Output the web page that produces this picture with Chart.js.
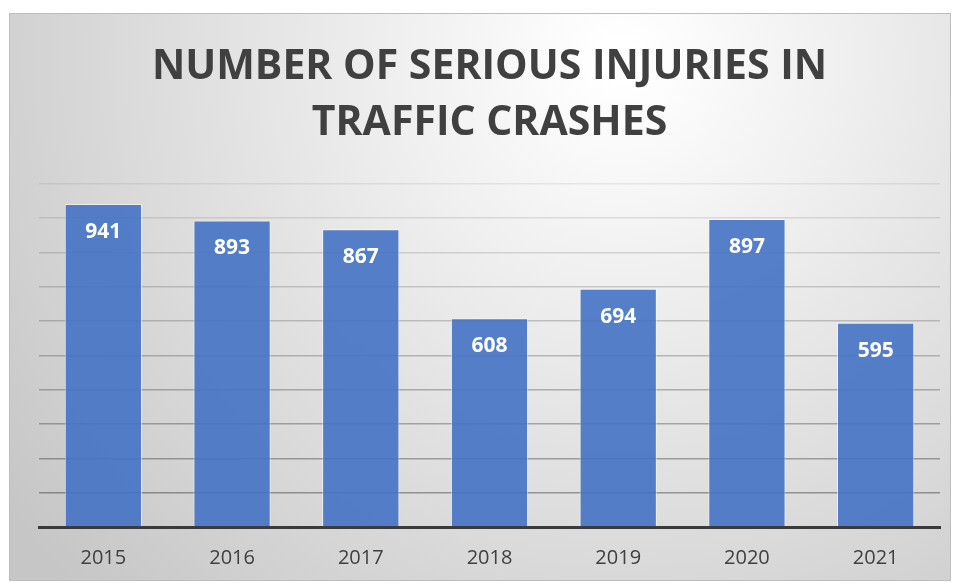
<!DOCTYPE html>
<html>
<head>
<meta charset="utf-8">
<script src="https://cdn.jsdelivr.net/npm/chart.js@4"></script>
<style>
  body { margin: 0; background: #fff; }
  #wrap { width: 958px; height: 583px; }
</style>
</head>
<body>
<div id="wrap"><canvas id="injuryChart" width="958" height="583"></canvas></div>
<script>
// Data for the chart
const years = ["2015", "2016", "2017", "2018", "2019", "2020", "2021"];
const injuries = [941, 893, 867, 608, 694, 897, 595];
const titleLines = ["NUMBER OF SERIOUS INJURIES IN", "TRAFFIC CRASHES"];

// gray panel behind the chart, lighter near the top middle
const panelBg = {
  id: "panelBg",
  beforeDraw(chart) {
    const c = chart.ctx;
    c.save();
    const g = c.createRadialGradient(620, 60, 20, 620, 60, 760);
    g.addColorStop(0, "#ffffff");
    g.addColorStop(1, "#c6c6c6");
    c.fillStyle = g;
    c.fillRect(9, 13, 941, 567);
    c.strokeStyle = "#bdbdbd";
    c.lineWidth = 1;
    c.strokeRect(9.5, 13.5, 941, 567);
    c.restore();
  },
};

// white value labels inside the top of each bar
const barValues = {
  id: "barValues",
  afterDatasetsDraw(chart) {
    const c = chart.ctx;
    const meta = chart.getDatasetMeta(0);
    c.save();
    c.fillStyle = "#ffffff";
    c.font = "bold 21px 'Open Sans', sans-serif";
    c.textAlign = "center";
    c.textBaseline = "middle";
    meta.data.forEach((bar, i) => {
      c.fillText(injuries[i], bar.x, bar.y + 28);
    });
    c.restore();
  },
};

const ctx = document.getElementById("injuryChart").getContext("2d");
new Chart(ctx, {
  type: "bar",
  data: {
    labels: years,
    datasets: [
      {
        label: "Serious injuries",
        data: injuries,
        backgroundColor: "rgba(68, 114, 196, 0.9)",
        borderColor: "rgba(255, 255, 255, 0.55)",
        borderWidth: 1,
        categoryPercentage: 0.6,
        barPercentage: 1.0,
      },
    ],
  },
  options: {
    responsive: false,
    animation: false,
    layout: { padding: { top: 40, left: 39, right: 18, bottom: 0 } },
    plugins: {
      legend: { display: false },
      tooltip: { enabled: false },
      title: {
        display: true,
        text: titleLines,
        color: "#404040",
        font: { family: "'Open Sans', sans-serif", size: 41, weight: "bold", lineHeight: 1.35 },
        padding: { top: 0, bottom: 33 },
      },
    },
    scales: {
      x: {
        afterFit: (scale) => { scale.height = 56; },
        grid: { display: false, drawTicks: false },
        border: { display: true, color: "#3a3a3a", width: 3 },
        ticks: {
          color: "#404040",
          padding: 21,
          font: { family: "'Open Sans', sans-serif", size: 20, lineHeight: 1.0 },
        },
      },
      y: {
        min: 0,
        max: 1000,
        ticks: { display: false, stepSize: 100 },
        border: { display: false },
        grid: {
          drawTicks: false,
          lineWidth: 1.5,
          color: (c) => "rgba(0,0,0," + (0.07 + 0.3 * (1 - c.tick.value / 1000)).toFixed(3) + ")",
        },
      },
    },
  },
  plugins: [panelBg, barValues],
});
</script>
</body>
</html>
